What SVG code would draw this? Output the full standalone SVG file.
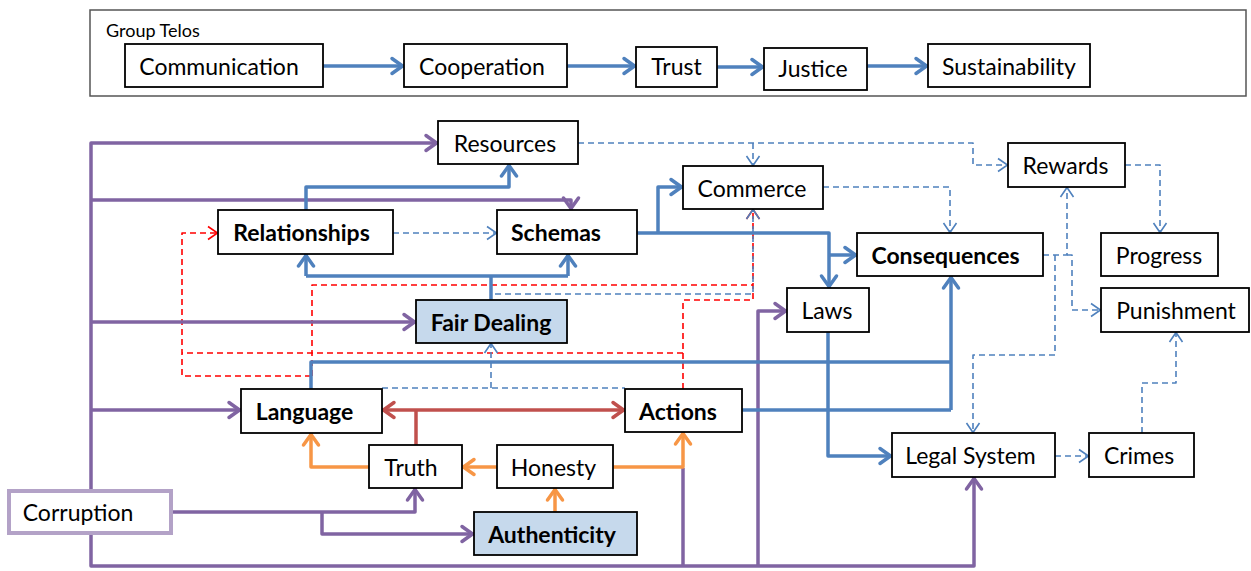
<svg xmlns="http://www.w3.org/2000/svg" width="1251" height="571" viewBox="0 0 1251 571">
<style>
.bx{fill:#fff;stroke:#000;stroke-width:1.8}
.fb{fill:#c6d9ec;stroke:#000;stroke-width:1.8}
.t{font-family:Lato,"Open Sans",sans-serif;font-size:23px;text-anchor:middle;dominant-baseline:central;fill:#000}
.b{font-weight:bold}
.c{fill:none;stroke-linejoin:round}
.p{stroke:#8064a2;stroke-width:3.5}
.bl{stroke:#4f81bd;stroke-width:3.5}
.r{stroke:#c0504d;stroke-width:3.5}
.o{stroke:#f79646;stroke-width:3.5}
.dr{stroke:#ff0000;stroke-width:1.6;stroke-dasharray:6 4}
.db{stroke:#4f81bd;stroke-width:1.6;stroke-dasharray:6 4}
</style>
<defs>
<marker id="mp" markerUnits="userSpaceOnUse" orient="auto" overflow="visible" refX="0" refY="0"><path d="M-12,-7.5 L-1.5,0 L-12,7.5" fill="none" stroke="#8064a2" stroke-width="3.5" stroke-linecap="round" stroke-linejoin="round"/></marker>
<marker id="mb" markerUnits="userSpaceOnUse" orient="auto" overflow="visible" refX="0" refY="0"><path d="M-12,-7.5 L-1.5,0 L-12,7.5" fill="none" stroke="#4f81bd" stroke-width="3.5" stroke-linecap="round" stroke-linejoin="round"/></marker>
<marker id="mr" markerUnits="userSpaceOnUse" orient="auto-start-reverse" overflow="visible" refX="0" refY="0"><path d="M-12,-7.5 L-1.5,0 L-12,7.5" fill="none" stroke="#c0504d" stroke-width="3.5" stroke-linecap="round" stroke-linejoin="round"/></marker>
<marker id="mo" markerUnits="userSpaceOnUse" orient="auto" overflow="visible" refX="0" refY="0"><path d="M-12,-7.5 L-1.5,0 L-12,7.5" fill="none" stroke="#f79646" stroke-width="3.5" stroke-linecap="round" stroke-linejoin="round"/></marker>
<marker id="mdr" markerUnits="userSpaceOnUse" orient="auto" overflow="visible" refX="0" refY="0"><path d="M-10,-6.5 L-0.5,0 L-10,6.5" fill="none" stroke="#ff0000" stroke-width="1.6"/></marker>
<marker id="mdb" markerUnits="userSpaceOnUse" orient="auto" overflow="visible" refX="0" refY="0"><path d="M-10,-6.5 L-0.5,0 L-10,6.5" fill="none" stroke="#4f81bd" stroke-width="1.6"/></marker>
</defs>
<rect width="1251" height="571" fill="#fff"/>

<g id="connectors">
<!-- top row -->
<path class="c bl" d="M323,66 H404" marker-end="url(#mb)"/>
<path class="c bl" d="M567,66 H636" marker-end="url(#mb)"/>
<path class="c bl" d="M717,67 H764" marker-end="url(#mb)"/>
<path class="c bl" d="M867,66 H928" marker-end="url(#mb)"/>
<!-- red dashed -->
<path class="c dr" d="M311,376 H182 V233 H218" marker-end="url(#mdr)"/>
<path class="c dr" d="M683,353 H182"/>
<path class="c dr" d="M312,376 V285 H753"/>
<path class="c dr" d="M683,389 V300 H753 V209" marker-end="url(#mdr)"/>
<!-- blue dashed -->
<path class="c db" d="M578,143 H973 V165 H1008" marker-end="url(#mdb)"/>
<path class="c db" d="M753,143 V166" marker-end="url(#mdb)"/>
<path class="c db" d="M823,187 H950 V233" marker-end="url(#mdb)"/>
<path class="c db" d="M1125,165 H1160 V233" marker-end="url(#mdb)"/>
<path class="c db" d="M1043,255 H1067 V187" marker-end="url(#mdb)"/>
<path class="c db" d="M1055,255 V355 H973 V433" marker-end="url(#mdb)"/>
<path class="c db" d="M1067,255 H1072 V310 H1101" marker-end="url(#mdb)"/>
<path class="c db" d="M1055,456 H1089" marker-end="url(#mdb)"/>
<path class="c db" d="M1142,433 V383 H1176 V332" marker-end="url(#mdb)"/>
<path class="c db" d="M393,233 H497" marker-end="url(#mdb)"/>
<path class="c db" d="M491,300 V294 H753 V209" marker-end="url(#mdb)"/>
<path class="c db" d="M382,388 H625"/>
<path class="c db" d="M491,388 V343" marker-end="url(#mdb)"/>
<!-- purple -->
<path class="c p" d="M91,489 V143 H438" marker-end="url(#mp)"/>
<path class="c p" d="M91,200 H571 V210" marker-end="url(#mp)"/>
<path class="c p" d="M91,322 H416" marker-end="url(#mp)"/>
<path class="c p" d="M91,410 H241" marker-end="url(#mp)"/>
<path class="c p" d="M173,512 H415 V488" marker-end="url(#mp)"/>
<path class="c p" d="M322,512 V534 H474" marker-end="url(#mp)"/>
<path class="c p" d="M91,535 V566 H974 V477" marker-end="url(#mp)"/>
<path class="c p" d="M683,566 V468"/>
<path class="c p" d="M758,566 V311 H787" marker-end="url(#mp)"/>
<!-- blue solid -->
<path class="c bl" d="M306,210 V187 H509 V164" marker-end="url(#mb)"/>
<path class="c bl" d="M491,300 V276"/>
<path class="c bl" d="M306,276 H568"/>
<path class="c bl" d="M306,276 V254" marker-end="url(#mb)"/>
<path class="c bl" d="M568,276 V254" marker-end="url(#mb)"/>
<path class="c bl" d="M637,233 H829 V288" marker-end="url(#mb)"/>
<path class="c bl" d="M829,255 H857" marker-end="url(#mb)"/>
<path class="c bl" d="M658,233 V187 H683" marker-end="url(#mb)"/>
<path class="c bl" d="M311,389 V362 H951"/>
<path class="c bl" d="M742,410 H951"/>
<path class="c bl" d="M951,410 V276" marker-end="url(#mb)"/>
<path class="c bl" d="M828,332 V456 H892" marker-end="url(#mb)"/>
<!-- brick red -->
<path class="c r" d="M382,410 H625" marker-start="url(#mr)" marker-end="url(#mr)"/>
<path class="c r" d="M416,445 V410"/>
<!-- orange -->
<path class="c o" d="M369,467 H311 V433" marker-end="url(#mo)"/>
<path class="c o" d="M497,467 H462" marker-end="url(#mo)"/>
<path class="c o" d="M613,467 H683 V432" marker-end="url(#mo)"/>
<path class="c o" d="M555,512 V488" marker-end="url(#mo)"/>
</g>

<g id="telos-frame">
<rect x="90" y="10" width="1156" height="86" fill="none" stroke="#555" stroke-width="1.5"/>
<text x="106" y="30" style="font-family:Lato,'Open Sans',sans-serif;font-size:18px;dominant-baseline:central">Group Telos</text>
</g>
<g id="communication"><rect class="bx" x="125" y="44" width="198" height="43"/><text class="t" x="219" y="65.5">Communication</text></g>
<g id="cooperation"><rect class="bx" x="404" y="44" width="163" height="43"/><text class="t" x="482" y="65.5">Cooperation</text></g>
<g id="trust"><rect class="bx" x="636" y="47" width="81" height="40"/><text class="t" x="676.5" y="66">Trust</text></g>
<g id="justice"><rect class="bx" x="764" y="48" width="103" height="42"/><text class="t" x="813" y="68">Justice</text></g>
<g id="sustainability"><rect class="bx" x="928" y="44" width="162" height="43"/><text class="t" x="1009" y="65.5">Sustainability</text></g>

<g id="resources"><rect class="bx" x="438" y="121" width="140" height="43"/><text class="t" x="505" y="142.5">Resources</text></g>
<g id="commerce"><rect class="bx" x="683" y="166" width="140" height="43"/><text class="t" x="752" y="187.5">Commerce</text></g>
<g id="rewards"><rect class="bx" x="1008" y="143" width="117" height="44"/><text class="t" x="1065.5" y="165">Rewards</text></g>
<g id="relationships"><rect class="bx" x="218" y="210" width="175" height="44"/><text class="t b" x="301.5" y="232">Relationships</text></g>
<g id="schemas"><rect class="bx" x="497" y="210" width="140" height="44"/><text class="t b" x="556" y="232">Schemas</text></g>
<g id="consequences"><rect class="bx" x="857" y="233" width="186" height="43"/><text class="t b" x="945.5" y="254.5">Consequences</text></g>
<g id="progress"><rect class="bx" x="1101" y="233" width="117" height="43"/><text class="t" x="1159" y="254.5">Progress</text></g>
<g id="punishment"><rect class="bx" x="1101" y="288" width="148" height="44"/><text class="t" x="1176" y="310">Punishment</text></g>
<g id="laws"><rect class="bx" x="787" y="288" width="82" height="44"/><text class="t" x="827" y="310">Laws</text></g>
<g id="fair-dealing"><rect class="fb" x="416" y="300" width="151" height="43"/><text class="t b" x="491" y="321.5">Fair Dealing</text></g>
<g id="language"><rect class="bx" x="241" y="389" width="141" height="44"/><text class="t b" x="304.5" y="411">Language</text></g>
<g id="actions"><rect class="bx" x="625" y="389" width="117" height="43"/><text class="t b" x="678" y="410.5">Actions</text></g>
<g id="truth"><rect class="bx" x="369" y="445" width="93" height="43"/><text class="t" x="411" y="466.5">Truth</text></g>
<g id="honesty"><rect class="bx" x="497" y="445" width="116" height="43"/><text class="t" x="553.5" y="466.5">Honesty</text></g>
<g id="authenticity"><rect class="fb" x="474" y="512" width="163" height="43"/><text class="t b" x="552" y="533.5">Authenticity</text></g>
<g id="legal-system"><rect class="bx" x="892" y="433" width="163" height="44"/><text class="t" x="970.5" y="455">Legal System</text></g>
<g id="crimes"><rect class="bx" x="1089" y="433" width="105" height="44"/><text class="t" x="1139" y="455">Crimes</text></g>
<g id="corruption"><rect x="9" y="491" width="162" height="42" fill="#fff" stroke="#b3a2c7" stroke-width="4"/><text class="t" x="78" y="512">Corruption</text></g>
</svg>
